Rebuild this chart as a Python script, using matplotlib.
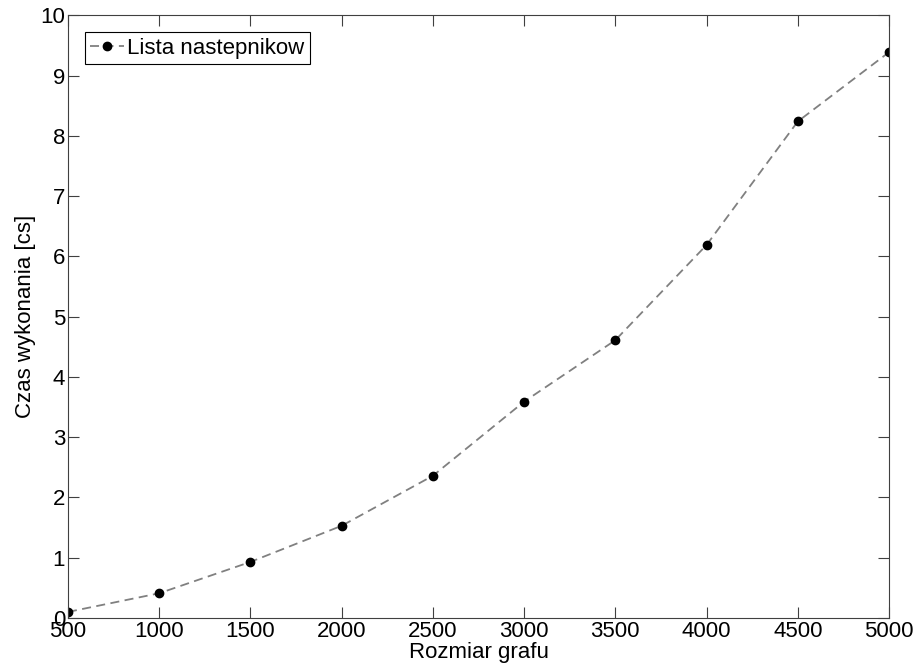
import matplotlib
matplotlib.use("Agg")
import matplotlib.pyplot as plt

sizes = [500, 1000, 1500, 2000, 2500, 3000, 3500, 4000, 4500, 5000]
times = [0.10, 0.41, 0.93, 1.53, 2.36, 3.59, 4.61, 6.19, 8.24, 9.39]
xticks = [500, 1000, 1500, 2000, 2500, 3000, 3500, 4000, 4500, 5000]
yticks = list(range(0, 11))

plt.rcParams['font.family'] = ['Liberation Sans', 'DejaVu Sans']
fig = plt.figure(figsize=(9.16, 6.72), dpi=100)
ax = fig.add_axes([0.0742, 0.0804, 0.8963, 0.8966])
ax.plot(sizes, times, linestyle='--', color='#808080', linewidth=1.3,
        marker='o', markersize=6, markerfacecolor='black', markeredgecolor='black',
        label='Lista nastepnikow', dashes=(5, 3))
ax.set_xlim(500, 5000)
ax.set_ylim(0, 10)
ax.set_xticks(xticks)
ax.set_yticks(yticks)
ax.tick_params(direction='in', top=True, right=True, length=8, labelsize=16, color='#404040', pad=2)
for s in ax.spines.values():
    s.set_color('#404040')
ax.set_xlabel('Rozmiar grafu', fontsize=16, labelpad=0)
ax.set_ylabel('Czas wykonania [cs]', fontsize=16, labelpad=3)
leg = ax.legend(loc='upper left', fontsize=16, fancybox=False, framealpha=1,
                edgecolor='black', handlelength=1.5, handletextpad=0.15,
                borderaxespad=0.75, borderpad=0.25)
leg.get_frame().set_linewidth(0.8)
fig.savefig('out.png', dpi=100)
